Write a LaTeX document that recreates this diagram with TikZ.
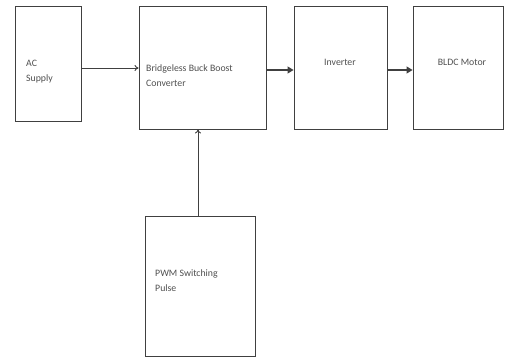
\documentclass[tikz,border=0pt]{standalone}
\usepackage{fontspec}
\setmainfont{Carlito}
\usetikzlibrary{arrows.meta,calc}
\definecolor{ln}{HTML}{404040}
\definecolor{tx}{HTML}{505050}
\tikzset{
  blk/.style={draw=ln,line width=0.9pt,fill=white,inner sep=0pt},
  lbl/.style={text=tx,font=\fontsize{9.8}{15}\selectfont,align=left,inner sep=0pt,anchor=west},
  openarr/.style={draw=ln,line width=0.9pt,-{To[length=4pt,width=6pt]}},
  fillarr/.style={draw=ln,line width=1.2pt,-{Triangle[length=6pt,width=7pt]}}
}
\begin{document}
\begin{tikzpicture}[x=1pt,y=-1pt]
\useasboundingbox (0,0) rectangle (505,358);
\node[blk,minimum width=66pt,minimum height=115pt] (ac) at (48,63.5) {};
\node[blk,minimum width=127pt,minimum height=123pt] (bb) at (202.5,67.5) {};
\node[blk,minimum width=93pt,minimum height=123pt] (inv) at (340.5,67.5) {};
\node[blk,minimum width=90pt,minimum height=123pt] (bldc) at (458,67.5) {};
\node[blk,minimum width=110pt,minimum height=140pt] (pwm) at (200,286) {};
\node[lbl] (tac) at (26,71.5) {AC\\Supply};
\node[lbl] (tbb) at (146,75.5) {Bridgeless Buck Boost\\Converter};
\node[lbl,anchor=center] (tinv) at (340,62) {Inverter};
\node[lbl,anchor=center] (tbldc) at (462,62) {BLDC Motor};
\node[lbl] (tpwm) at (155,281) {PWM Switching\\Pulse};
\coordinate (a1) at ($(ac.east)+(0,4.5)$);
\draw[openarr] (a1) -- (a1 -| bb.west);
\coordinate (a2) at ($(bb.east)+(0,2.5)$);
\draw[fillarr] (a2) -- (a2 -| inv.west);
\coordinate (a3) at ($(inv.east)+(0,2.5)$);
\draw[fillarr] (a3) -- (a3 -| bldc.west);
\coordinate (a4) at ($(pwm.north)+(-2,0)$);
\draw[openarr] (a4) -- (a4 |- bb.south);
\end{tikzpicture}
\end{document}
